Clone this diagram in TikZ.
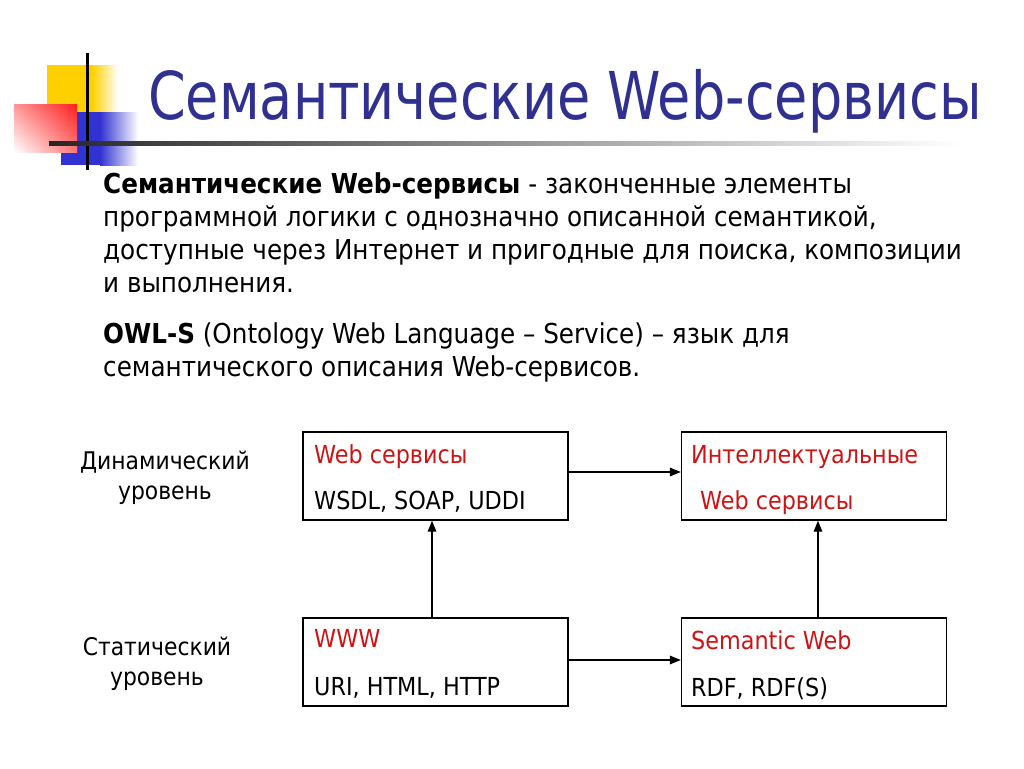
\documentclass[tikz,border=0pt]{standalone}
\usepackage{fontspec}
\setmainfont{DejaVu Sans Condensed}
\newfontfamily\titlefont[FakeStretch=0.91]{DejaVu Sans Condensed}
\usetikzlibrary{shadings,arrows.meta}
\definecolor{titleblue}{RGB}{48,48,145}
\definecolor{myred}{RGB}{204,20,20}
\definecolor{sqyellow}{RGB}{255,208,0}
\definecolor{sqblue}{RGB}{50,50,210}
\definecolor{sqred}{RGB}{255,30,30}
\definecolor{sqpinkA}{RGB}{255,150,150}
\definecolor{sqpinkB}{RGB}{255,120,120}
\begin{document}
\begin{tikzpicture}[x=1pt,y=-1pt,
  box/.style={draw, line width=1.3pt, inner sep=0pt, minimum width=265pt, minimum height=88pt},
  arr/.style={-{Triangle[length=11pt,width=8.5pt]}, line width=1.3pt},
  boxtxt/.style={anchor=base west, inner sep=0pt, font=\fontsize{24.8}{28}\selectfont},
  redtxt/.style={boxtxt, text=myred},
  lvl/.style={align=center, inner sep=0pt, font=\fontsize{24.3}{30}\selectfont},
  body/.style={anchor=base west, align=left, inner sep=0pt, font=\fontsize{27.4}{33}\selectfont}]
\useasboundingbox (0,0) rectangle (1024,768);
% decoration
\fill[sqyellow] (47,65) rectangle (92,112);
\shade[left color=sqyellow, right color=white] (92,65) rectangle (118,112);
\fill[sqblue] (61,112) rectangle (100,165);
\shade[left color=sqblue, right color=white] (100,112) rectangle (138,165);
\shade[upper right=sqred, upper left=sqpinkA, lower right=sqpinkB, lower left=white] (14,104) rectangle (77,152);
\draw[line width=3pt] (87,53) -- (87,170);
\shade[left color=black!85, right color=white] (49,141) rectangle (960,145);
% title
\node[anchor=base west, inner sep=0pt, text=titleblue, font=\titlefont\fontsize{66}{72}\selectfont] (title) at (148,119) {Семантические Web-сервисы};
% body
\node[body] (p1) at (103,292) {\textbf{Семантические Web-сервисы} - законченные элементы\\программной логики с однозначно описанной семантикой,\\доступные через Интернет и пригодные для поиска, композиции\\и выполнения.};
\node[body] (p2) at (103,376) {\textbf{OWL-S} (Ontology Web Language – Service) – язык для\\семантического описания Web-сервисов.};
% levels
\node[lvl] (dyn) at (165,478) {Динамический\\уровень};
\node[lvl] (stat) at (157,664) {Статический\\уровень};
% boxes
\node[box] (b1) at (435.5,476) {};
\node[box] (b2) at (814,476) {};
\node[box] (b3) at (435.5,662) {};
\node[box] (b4) at (814,662) {};
\node[redtxt] (t1a) at (314,463) {Web сервисы};
\node[boxtxt] (t1b) at (314,509) {WSDL, SOAP, UDDI};
\node[redtxt] (t2a) at (691,463) {Интеллектуальные};
\node[redtxt] (t2b) at (700,509) {Web сервисы};
\node[redtxt] (t3a) at (314,647) {WWW};
\node[boxtxt] (t3b) at (314,695) {URI, HTML, HTTP};
\node[redtxt] (t4a) at (691,649) {Semantic Web};
\node[boxtxt] (t4b) at (691,696) {RDF, RDF(S)};
% arrows
\draw[arr] ([yshift=4pt]b1.east) -- ([yshift=4pt]b2.west);
\draw[arr] ([yshift=2pt]b3.east) -- ([yshift=2pt]b4.west);
\draw[arr] ([xshift=-3.5pt]b3.north) -- ([xshift=-3.5pt]b1.south);
\draw[arr] ([xshift=4pt]b4.north) -- ([xshift=4pt]b2.south);
\end{tikzpicture}
\end{document}
